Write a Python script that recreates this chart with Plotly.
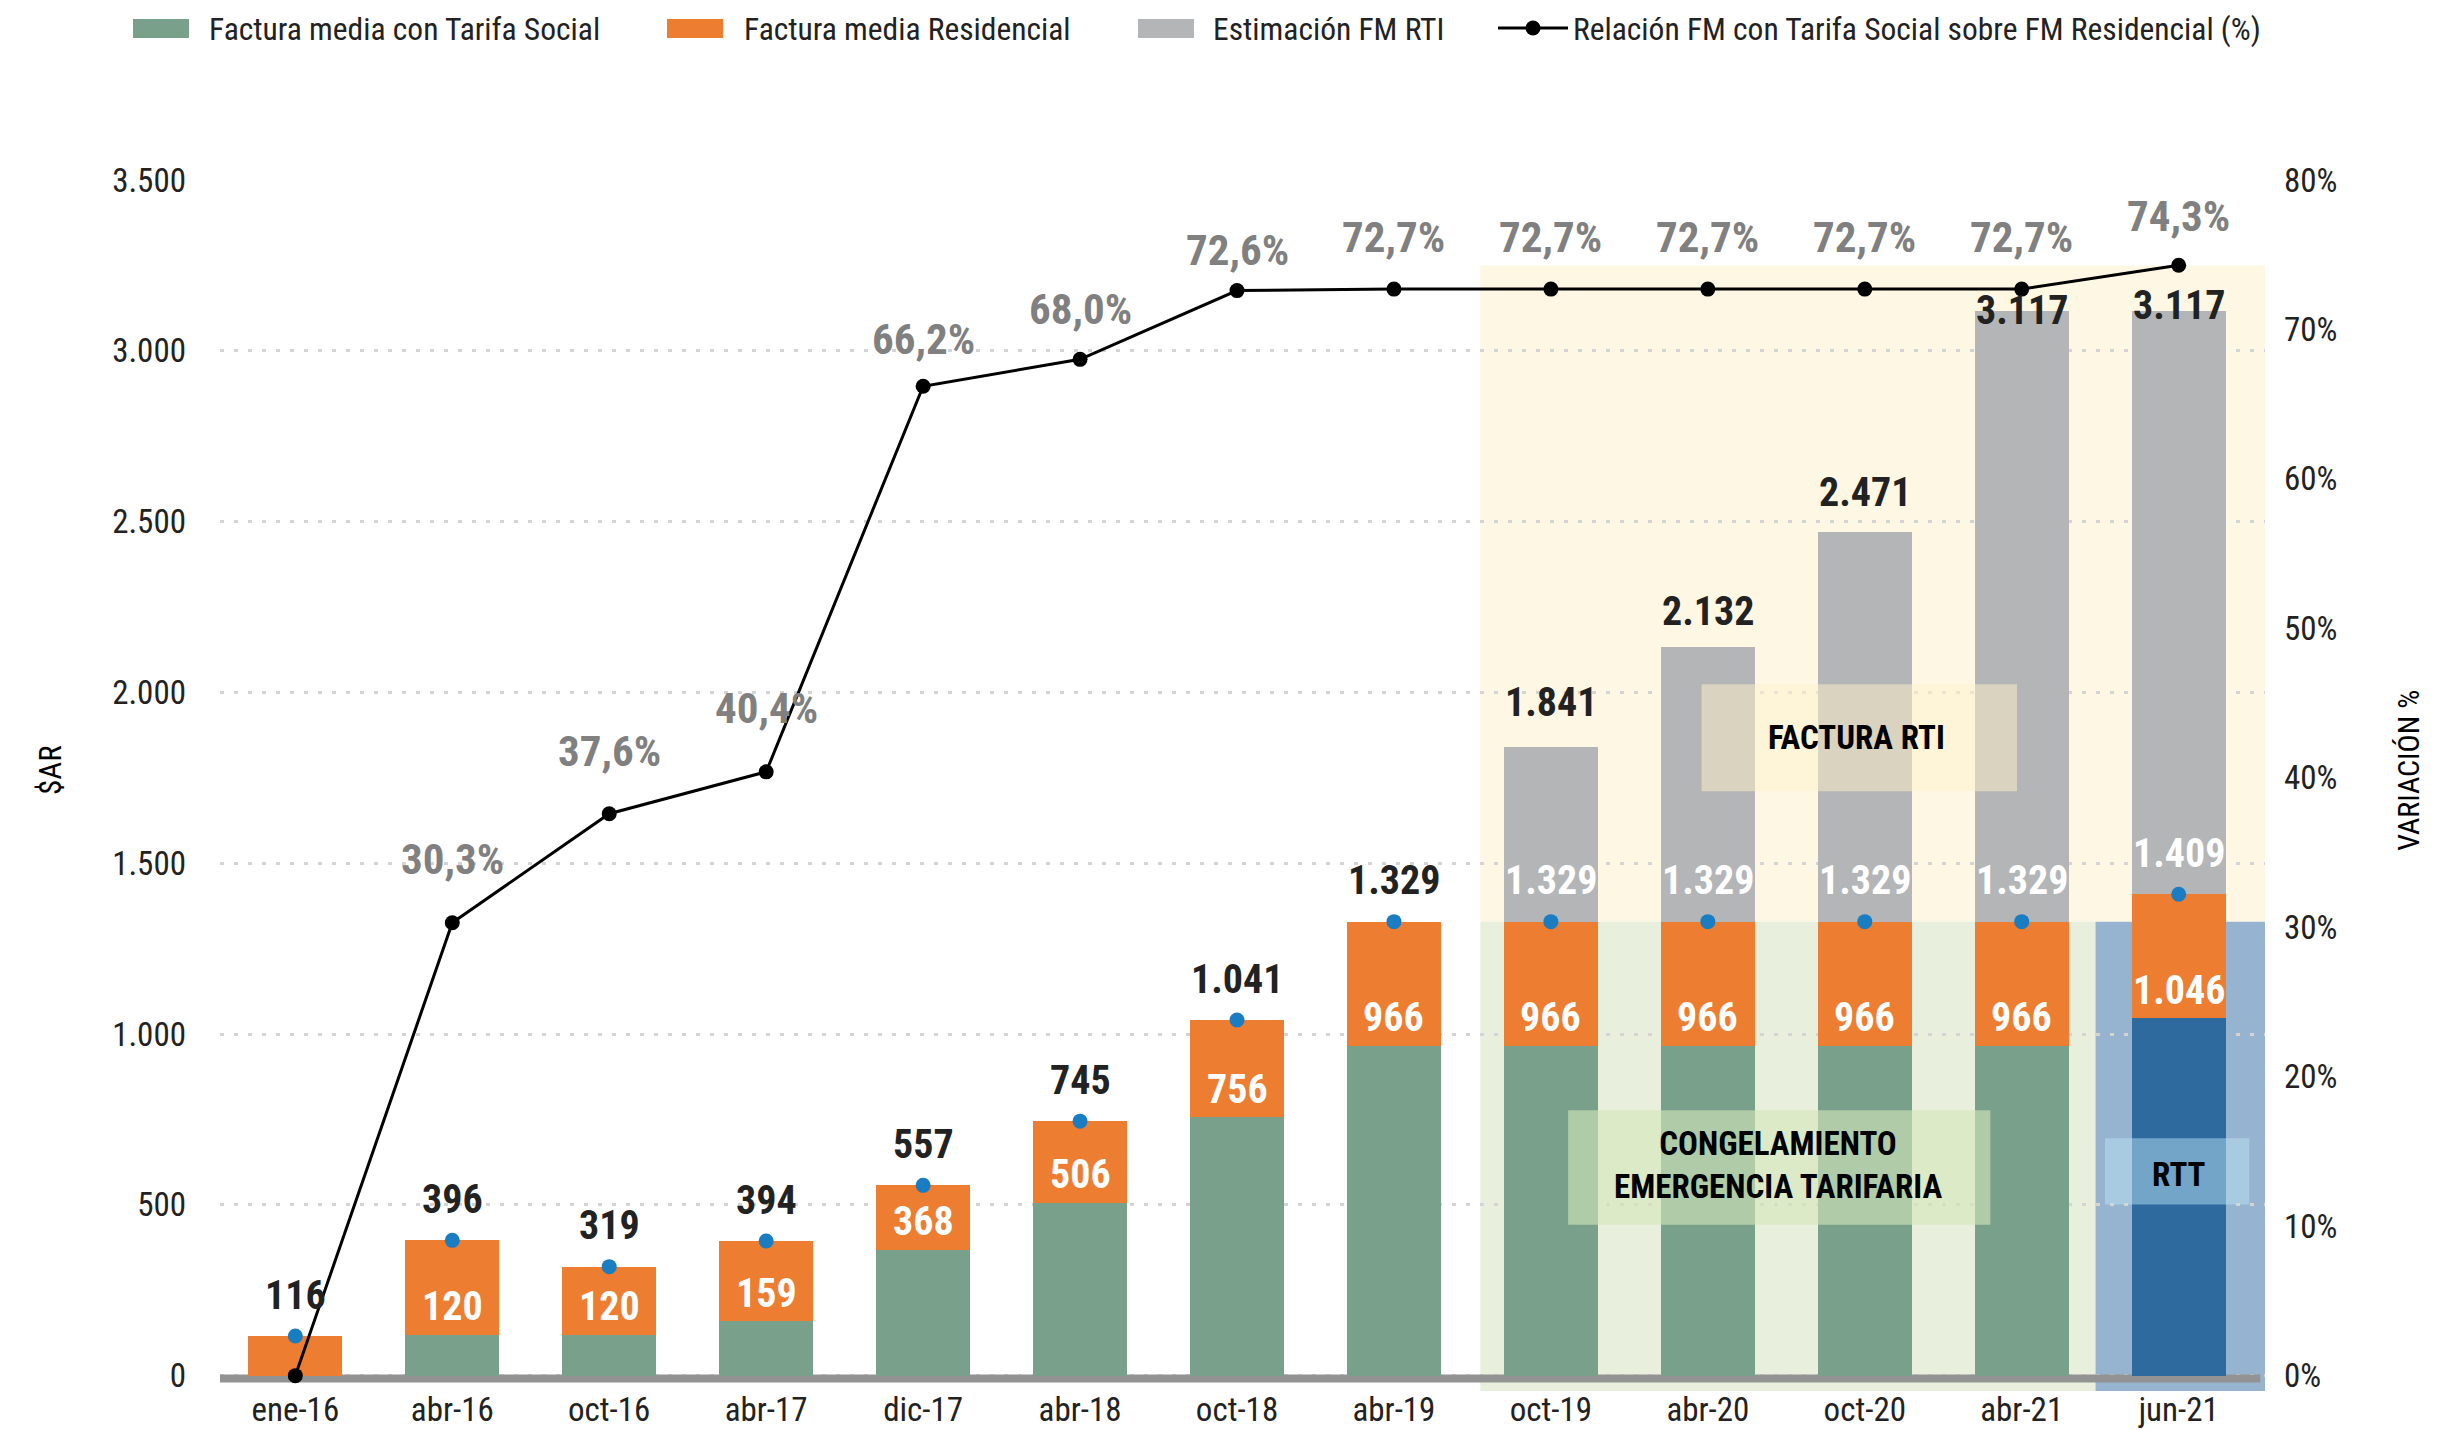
import plotly.graph_objects as go

# ---------------- data ----------------
categories = ["ene-16", "abr-16", "oct-16", "abr-17", "dic-17", "abr-18", "oct-18",
              "abr-19", "oct-19", "abr-20", "oct-20", "abr-21", "jun-21"]
tarifa_social = [0, 120, 120, 159, 368, 506, 756, 966, 966, 966, 966, 966, 1046]
residencial = [116, 396, 319, 394, 557, 745, 1041, 1329, 1329, 1329, 1329, 1329, 1409]
estimacion_rti = [None, None, None, None, None, None, None, None, 1841, 2132, 2471, 3117, 3117]
relacion_pct = [0.0, 30.3, 37.6, 40.4, 66.2, 68.0, 72.6, 72.7, 72.7, 72.7, 72.7, 72.7, 74.3]

y_ticks = [0, 500, 1000, 1500, 2000, 2500, 3000, 3500]
y2_ticks = [0, 10, 20, 30, 40, 50, 60, 70, 80]
y2_ticktext = [f"{v}%" for v in y2_ticks]

# ---------------- style ----------------
FONT = "Liberation Sans Narrow, Arial Narrow, Roboto Condensed, Roboto, sans-serif"
C_GREEN = "#78a08a"
C_RTT = "#2e6a9e"
C_ORANGE = "#ed7d31"
C_GRAY = "#b4b5b7"
C_DOT = "#1a7dc1"
Y_MIN, Y_MAX = -45, 3500
Y2_MAX = 80
rti_label_dy = [44, 36, 39, 0, 5]
pct_label_dy = [0, 64, 63, 64, 47, 50, 41, 52, 52, 52, 52, 52, 49]
LEGEND_ITEMWIDTH = 70
legend_text_x = [209, 744, 1213, 1573]      # px where each legend label starts
legend_swatch_x = [133, 667, 1138]          # px left edge of the wide legend swatches
SWATCH_W, SWATCH_Y0, SWATCH_Y1 = 56, 19, 38

W, H = 2461, 1430
M_L, M_R, M_T, M_B = 220, 196, 180, 39
PLOT_W, PLOT_H = W - M_L - M_R, H - M_T - M_B


def fmt_int(v):
    return f"{v:,}".replace(",", ".")


def fmt_pct(v):
    return f"{v:.1f}%".replace(".", ",")


x = list(range(len(categories)))
orange_part = [r - s for r, s in zip(residencial, tarifa_social)]
gray_part = [(t - r) if t is not None else None for t, r in zip(estimacion_rti, residencial)]
green_colors = [C_GREEN] * (len(categories) - 1) + [C_RTT]

fig = go.Figure()
fig.add_trace(go.Bar(x=x, y=tarifa_social, name="Factura media con Tarifa Social", legend="legend",
                     marker=dict(color=green_colors, line=dict(width=0)), width=0.6))
fig.add_trace(go.Bar(x=x, y=orange_part, name="Factura media Residencial", legend="legend2",
                     marker=dict(color=C_ORANGE, line=dict(width=0)), width=0.6))
fig.add_trace(go.Bar(x=x, y=gray_part, name="Estimación FM RTI", legend="legend3",
                     marker=dict(color=C_GRAY, line=dict(width=0)), width=0.6))
fig.add_trace(go.Scatter(x=x, y=relacion_pct, yaxis="y2", mode="lines+markers", legend="legend4",
                         name="Relación FM con Tarifa Social sobre FM Residencial (%)",
                         line=dict(color="black", width=3),
                         marker=dict(color="black", size=15)))
fig.add_trace(go.Scatter(x=x, y=residencial, mode="markers", showlegend=False,
                         marker=dict(color=C_DOT, size=15)))

annotations = []
# white labels: tarifa social values
for i, v in enumerate(tarifa_social):
    if v > 0:
        annotations.append(dict(x=i, y=v, yref="y", text=f"<b>{fmt_int(v)}</b>", showarrow=False,
                                yanchor="middle", xanchor="center", yshift=28,
                                font=dict(family=FONT, size=40, color="white")))
# residencial values
for i, v in enumerate(residencial):
    col = "#222222" if estimacion_rti[i] is None else "white"
    annotations.append(dict(x=i, y=v, yref="y", text=f"<b>{fmt_int(v)}</b>", showarrow=False,
                            yanchor="middle", xanchor="center", yshift=41,
                            font=dict(family=FONT, size=40, color=col)))
# RTI totals
k = 0
for i, v in enumerate(estimacion_rti):
    if v is not None:
        annotations.append(dict(x=i, y=v, yref="y", text=f"<b>{fmt_int(v)}</b>", showarrow=False,
                                yanchor="middle", xanchor="center", yshift=rti_label_dy[k],
                                font=dict(family=FONT, size=40, color="#222222")))
        k += 1
# percentages
for i, p in enumerate(relacion_pct):
    if p > 0:
        annotations.append(dict(x=i, y=p, yref="y2", text=f"<b>{fmt_pct(p)}</b>", showarrow=False,
                                yanchor="middle", xanchor="center", yshift=pct_label_dy[i],
                                font=dict(family=FONT, size=43, color="#808080")))

# boxes text
annotations += [
    dict(x=9.95, y=1868, yref="y", text="<b>FACTURA RTI</b>", showarrow=False,
         font=dict(family=FONT, size=33, color="black")),
    dict(x=9.45, y=616, yref="y", text="<b>CONGELAMIENTO<br>EMERGENCIA TARIFARIA</b>", showarrow=False,
         font=dict(family=FONT, size=33, color="black")),
    dict(x=12.0, y=589, yref="y", text="<b>RTT</b>", showarrow=False,
         font=dict(family=FONT, size=33, color="black")),
    dict(x=-0.083, y=0.513, xref="paper", yref="paper", text="$AR", showarrow=False, textangle=-90,
         xanchor="center", yanchor="middle", font=dict(family=FONT, size=31, color="black")),
    dict(x=1.0704, y=0.513, xref="paper", yref="paper", text="VARIACIÓN %", showarrow=False,
         textangle=-90, xanchor="center", yanchor="middle",
         font=dict(family=FONT, size=30, color="black")),
]

shapes = [
    dict(type="rect", xref="x", yref="y", x0=7.55, x1=12.55, y0=1329, y1=3250,
         fillcolor="#fef7e4", line=dict(width=0), layer="below"),
    dict(type="rect", xref="x", yref="y", x0=7.55, x1=11.47, y0=Y_MIN, y1=1329,
         fillcolor="#e8f0dd", line=dict(width=0), layer="below"),
    dict(type="rect", xref="x", yref="y", x0=11.47, x1=12.55, y0=Y_MIN, y1=1329,
         fillcolor="#96b4cf", line=dict(width=0), layer="below"),
    dict(type="rect", xref="x", yref="y", x0=-0.48, x1=12.52, y0=-20, y1=3,
         fillcolor="#939393", line=dict(width=0), layer="between"),
    dict(type="rect", xref="x", yref="y", x0=8.96, x1=10.97, y0=1711, y1=2024,
         fillcolor="rgba(254,241,201,0.5)", line=dict(width=0), layer="above"),
    dict(type="rect", xref="x", yref="y", x0=8.11, x1=10.8, y0=442, y1=777,
         fillcolor="rgba(212,230,187,0.61)", line=dict(width=0), layer="above"),
    dict(type="rect", xref="x", yref="y", x0=11.53, x1=12.45, y0=501, y1=695,
         fillcolor="rgba(187,226,244,0.49)", line=dict(width=0), layer="above"),
]
# wide legend swatches (as in the original legend)
for px, col in zip(legend_swatch_x, [C_GREEN, C_ORANGE, C_GRAY]):
    shapes.append(dict(type="rect", xref="paper", yref="paper",
                       x0=(px - M_L) / PLOT_W, x1=(px + SWATCH_W - M_L) / PLOT_W,
                       y0=(H - M_B - SWATCH_Y1) / PLOT_H, y1=(H - M_B - SWATCH_Y0) / PLOT_H,
                       fillcolor=col, line=dict(width=0), layer="above"))


def legend_box(px):
    return dict(orientation="h", x=(px - 10 - LEGEND_ITEMWIDTH) / W, y=0.9993,
                xref="container", yref="container", xanchor="left", yanchor="top",
                bgcolor="rgba(0,0,0,0)",
                font=dict(family=FONT, size=31.5, color="#222222"), itemwidth=LEGEND_ITEMWIDTH)


fig.update_layout(
    width=W, height=H,
    margin=dict(l=M_L, r=M_R, t=M_T, b=M_B, autoexpand=False),
    barmode="stack", bargap=0.4,
    plot_bgcolor="white", paper_bgcolor="white",
    separators=",.",
    font=dict(family=FONT, size=33, color="#222222"),
    xaxis=dict(tickmode="array", tickvals=x, ticktext=categories, range=[-0.48, 12.55],
               showgrid=False, zeroline=False, showline=False, ticks="", automargin=False,
               ticklabelstandoff=-4,
               tickfont=dict(family=FONT, size=33, color="#222222")),
    yaxis=dict(range=[Y_MIN, Y_MAX], tickvals=y_ticks, tickformat=",d", automargin=False,
               showgrid=True, gridcolor="#d4d4d4", gridwidth=3, griddash="4px,10px",
               zeroline=False, showline=False, ticks="", ticklabelstandoff=33,
               tickfont=dict(family=FONT, size=33, color="#222222")),
    yaxis2=dict(range=[Y_MIN * Y2_MAX / Y_MAX, Y2_MAX], tickmode="array", tickvals=y2_ticks,
                ticktext=y2_ticktext, automargin=False,
                overlaying="y", side="right", showgrid=False, zeroline=False, showline=False,
                ticks="", ticklabelstandoff=18,
                tickfont=dict(family=FONT, size=33, color="#222222")),
    legend=legend_box(legend_text_x[0]),
    legend2=legend_box(legend_text_x[1]),
    legend3=legend_box(legend_text_x[2]),
    legend4=legend_box(legend_text_x[3]),
    annotations=annotations,
    shapes=shapes,
)

fig.write_html("out.html", config={"displayModeBar": False},
               post_script="document.body.style.margin='0';document.body.style.overflow='hidden';")
